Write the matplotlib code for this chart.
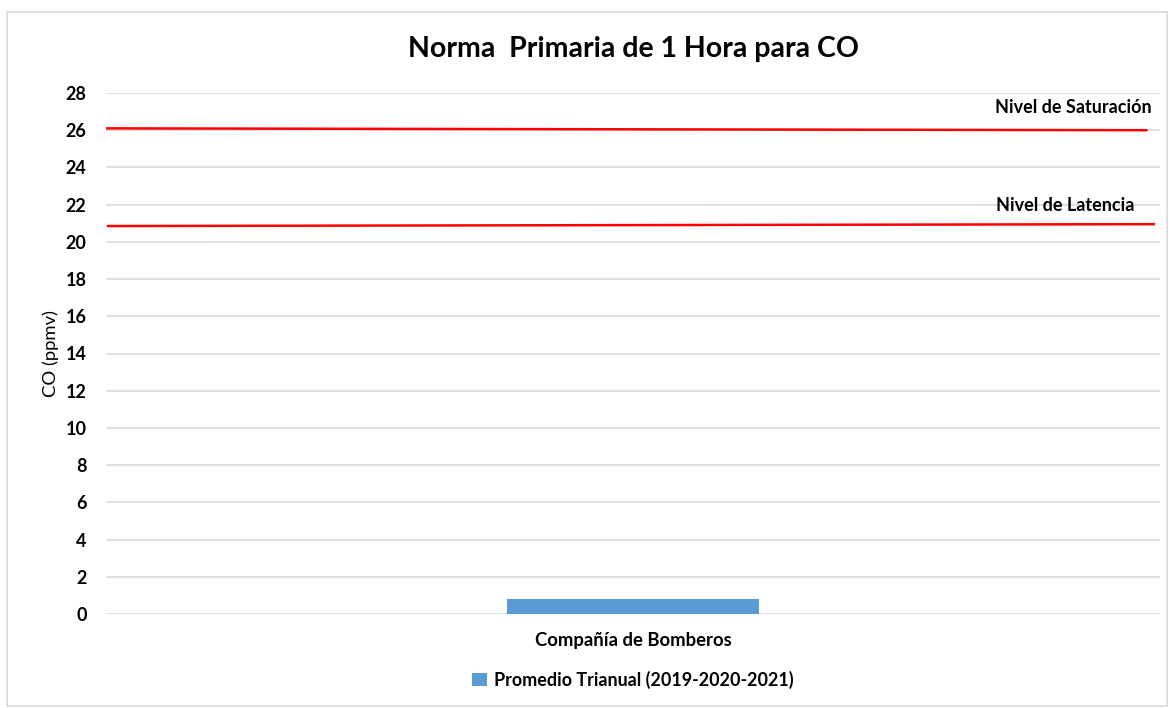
import matplotlib.pyplot as plt
from matplotlib.patches import Rectangle

categories = ['Compañía de Bomberos']
promedio = [0.8]
saturacion = [26.1, 26.0]
latencia = [20.85, 20.95]
yticks = list(range(0, 30, 2))

plt.rcParams['font.family'] = ['Lato', 'DejaVu Sans']

fig = plt.figure(figsize=(11.69, 7.08), dpi=100)
fig.patches.append(Rectangle((7 / 1169, 2 / 708), 1160 / 1169, 694 / 708,
                             transform=fig.transFigure, fill=False,
                             edgecolor='#d9d9d9', linewidth=1.2))
ax = fig.add_axes([106 / 1169, 1 - 614 / 708, 1054 / 1169, 521 / 708])

ax.bar([0], promedio, width=0.239, color='#5B9BD5', zorder=3,
       label='Promedio Trianual (2019-2020-2021)')
ax.plot([-0.503, 0.487], saturacion, color='#ff0000', lw=1.8, zorder=4)
ax.plot([-0.498, 0.494], latencia, color='#ff0000', lw=1.8, zorder=4)
ax.text(0.492, 26.75, 'Nivel de Saturación', ha='right', va='bottom',
        fontsize=13, fontweight='bold')
ax.text(0.476, 21.5, 'Nivel de Latencia', ha='right', va='bottom',
        fontsize=13, fontweight='bold')

ax.set_xlim(-0.5, 0.5)
ax.set_ylim(0, 28)
ax.set_yticks(yticks)
ax.set_yticklabels([str(t) for t in yticks], fontsize=13, fontweight='bold')
ax.set_xticks([0])
ax.set_xticklabels(categories, fontsize=13.3, fontweight='bold')
ax.tick_params(length=0, pad=14)
ax.tick_params(axis='x', pad=13)
ax.grid(axis='y', color='#d9d9d9', lw=1.2, zorder=0)
for s in ax.spines.values():
    s.set_visible(False)
ax.set_ylabel('CO (ppmv)', fontsize=13.3, labelpad=5)
ax.set_title('Norma  Primaria de 1 Hora para CO', fontsize=20.5,
             fontweight='bold', pad=26)
ax.legend(loc='upper center', bbox_to_anchor=(0.5, -0.078), frameon=False,
          handlelength=0.8, handleheight=0.8, handletextpad=0.4,
          prop={'weight': 'bold', 'size': 12.9})

fig.savefig('out.png', dpi=100)
